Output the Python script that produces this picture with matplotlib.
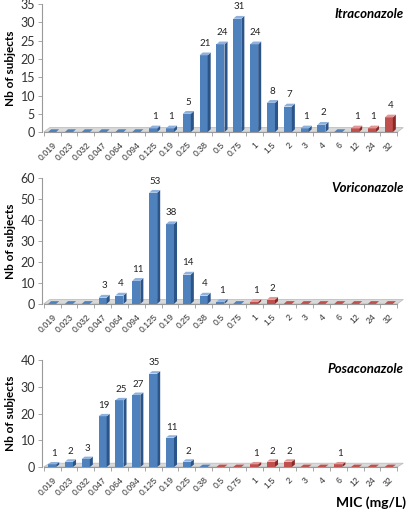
import matplotlib
matplotlib.use("Agg")
import matplotlib.pyplot as plt
from matplotlib.patches import Polygon, Rectangle

plt.rcParams['font.family'] = ['Lato', 'DejaVu Sans']

mic = ['0.019', '0.023', '0.032', '0.047', '0.064', '0.094', '0.125', '0.19', '0.25', '0.38',
       '0.5', '0.75', '1', '1.5', '2', '3', '4', '6', '12', '24', '32']

itraconazole = [0, 0, 0, 0, 0, 0, 1, 1, 5, 21, 24, 31, 24, 8, 7, 1, 2, 0, 1, 1, 4]
voriconazole = [0, 0, 0, 3, 4, 11, 53, 38, 14, 4, 1, 0, 1, 2, 0, 0, 0, 0, 0, 0, 0]
posaconazole = [1, 2, 3, 19, 25, 27, 35, 11, 2, 0, 0, 0, 1, 2, 2, 0, 0, 1, 0, 0, 0]

# first resistant category (red bars) for each drug
itra_red = '12'
vori_red = '1'
posa_red = '0.5'

blue = ('#4F81BD', '#2B5488', '#8FB1DE')
red = ('#C0504D', '#8A2A27', '#E09896')


def draw_panel(ax, values, red_from, ymax, ystep, title):
    w = 0.48
    dx = 0.18
    dy = ymax * 0.022
    n = len(values)
    first_red = mic.index(red_from)

    # floor
    floor = Polygon([(-0.5, 0), (-0.5 + 2 * dx, 1.6 * dy), (n - 0.5 + 2 * dx, 1.6 * dy), (n - 0.5, 0)],
                    closed=True, facecolor='#D9D9D9', edgecolor='#BFBFBF', lw=0.6, zorder=1)
    ax.add_patch(floor)

    for i, v in enumerate(values):
        face, side, top = red if i >= first_red else blue
        x0 = i - w / 2
        x1 = i + w / 2
        ax.add_patch(Rectangle((x0, 0), w, v, facecolor=face, edgecolor='none', zorder=3))
        ax.add_patch(Polygon([(x1, 0), (x1 + dx, dy), (x1 + dx, v + dy), (x1, v)],
                             closed=True, facecolor=side, edgecolor='none', zorder=3))
        ax.add_patch(Polygon([(x0, v), (x0 + dx, v + dy), (x1 + dx, v + dy), (x1, v)],
                             closed=True, facecolor=top if v > 0 else face, edgecolor='none', zorder=3))
        if v > 0:
            ax.text(i + dx / 2, v + dy + ymax * 0.035, str(v), ha='center', va='bottom',
                    fontsize=7, color='#222222')

    ax.set_xlim(-0.6, n - 0.1)
    ax.set_ylim(0, ymax)
    ax.set_yticks(range(0, ymax + 1, ystep))
    ax.set_xticks(range(n))
    ax.set_xticks([i + 0.5 for i in range(-1, n)], minor=True)
    ax.set_xticklabels(mic, rotation=45, ha='right', rotation_mode='anchor', fontsize=6.3,
                       color='#333333', family=['Liberation Sans', 'DejaVu Sans'])
    ax.tick_params(axis='x', which='major', length=0, pad=6)
    ax.tick_params(axis='x', which='minor', length=3, width=0.6, color='#999999')
    ax.tick_params(axis='y', length=3, width=0.6, color='#999999', labelsize=9, pad=2,
                   labelcolor='#333333')
    for s in ['top', 'right']:
        ax.spines[s].set_visible(False)
    for s in ['left', 'bottom']:
        ax.spines[s].set_color('#999999')
        ax.spines[s].set_linewidth(0.8)
    ax.spines['bottom'].set_bounds(-0.5, n - 0.5)
    ax.set_ylabel('Nb of subjects', fontsize=8.5, fontweight='bold', labelpad=3)
    ax.text(1.0, 0.92, title, transform=ax.transAxes, ha='right', va='center',
            fontsize=9.5, fontweight='bold', fontstyle='italic')


fig = plt.figure(figsize=(4.16, 5.16), dpi=100)
ax1 = fig.add_axes([0.101, 0.744, 0.87, 0.248])
ax2 = fig.add_axes([0.101, 0.411, 0.87, 0.244])
ax3 = fig.add_axes([0.101, 0.095, 0.87, 0.207])

draw_panel(ax1, itraconazole, itra_red, 35, 5, 'Itraconazole')
draw_panel(ax2, voriconazole, vori_red, 60, 10, 'Voriconazole')
draw_panel(ax3, posaconazole, posa_red, 40, 10, 'Posaconazole')

fig.text(0.975, 0.025, 'MIC (mg/L)', ha='right', va='center', fontsize=10, fontweight='bold')

fig.savefig('out.png', dpi=100)
